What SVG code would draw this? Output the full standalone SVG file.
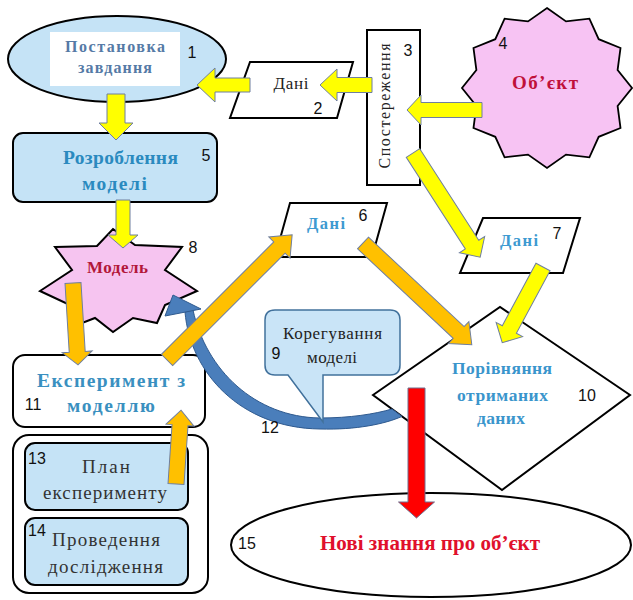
<svg xmlns="http://www.w3.org/2000/svg" width="633" height="600" viewBox="0 0 633 600">
<style>
.ser{font-family:"Liberation Serif","Times New Roman",serif;text-anchor:middle}
.b{font-weight:bold}
.num{font-family:"Liberation Sans",Arial,sans-serif;font-size:16px;fill:#111;text-anchor:middle}
.blk{stroke:#000;stroke-width:2}
.lb{fill:#C5E3F6}
.yel{fill:#FFFF00;stroke:#6F7F9F;stroke-width:1}
.org{fill:#FFC000;stroke:#6F7F9F;stroke-width:1}
.red{fill:#FF0000;stroke:#6F6F8F;stroke-width:1}
</style>
<rect width="633" height="600" fill="#fff"/>
<g id="node1">
<ellipse cx="117" cy="59" rx="109" ry="43" class="lb blk"/>
<rect x="50" y="32" width="130" height="54" fill="#fff"/>
<text class="ser b" x="115" y="52" font-size="16" fill="#557AA6" textLength="100" lengthAdjust="spacing">Постановка</text>
<text class="ser b" x="115" y="73" font-size="16" fill="#557AA6" textLength="74" lengthAdjust="spacing">завдання</text>
<text class="num" x="192" y="58">1</text>
</g>
<g id="node2">
<polygon points="250,62 353,62 337,118 230,118" fill="#fff" class="blk"/>
<text class="ser" x="291" y="89" font-size="17" fill="#222" textLength="35" lengthAdjust="spacing">Дані</text>
<text class="num" x="318" y="114">2</text>
</g>
<g id="node3">
<rect x="367" y="30" width="53" height="155" fill="#fff" class="blk"/>
<text class="ser" transform="translate(390,106) rotate(-90)" font-size="16" fill="#222" textLength="125" lengthAdjust="spacing">Спостереження</text>
<text class="num" x="408" y="56">3</text>
</g>
<g id="node4">
<polygon points="547,8 566,21.4 589.4,18.7 598.7,39.2 620.5,48 617.6,70.1 632,88 617.6,105.9 620.5,128 598.7,136.8 589.4,157.3 566,154.6 547,168 528,154.6 504.6,157.3 495.3,136.8 473.5,128 476.4,105.9 462,88 476.4,70.1 473.5,48 495.3,39.2 504.6,18.7 528,21.4" fill="#F7C3F3" stroke="#000" stroke-width="1.8"/>
<text class="ser b" x="545" y="89" font-size="19" fill="#C0103A" textLength="66" lengthAdjust="spacing">Об’єкт</text>
<text class="num" x="503" y="49">4</text>
</g>
<g id="node5">
<rect x="13" y="133" width="204" height="69" rx="10" class="lb blk"/>
<text class="ser b" x="120.5" y="164" font-size="19.5" fill="#2A8ABF" textLength="115" lengthAdjust="spacing">Розроблення</text>
<text class="ser b" x="114.5" y="190" font-size="19.5" fill="#2A8ABF" textLength="65" lengthAdjust="spacing">моделі</text>
<text class="num" x="206" y="161">5</text>
</g>
<g id="node6">
<polygon points="290,203 387,203 372,257 275,257" fill="#fff" class="blk"/>
<text class="ser b" x="326" y="229" font-size="16.5" fill="#3D9AD1" textLength="38" lengthAdjust="spacing">Дані</text>
<text class="num" x="363" y="221">6</text>
</g>
<g id="node7">
<polygon points="483,218 580,218 563,273 460,273" fill="#fff" class="blk"/>
<text class="ser b" x="519" y="246" font-size="16.5" fill="#3D9AD1" textLength="38" lengthAdjust="spacing">Дані</text>
<text class="num" x="557" y="239">7</text>
</g>
<g id="node8">
<polygon points="55,247 97,246 113,229 135,245 182,247 165,270 197,291 165,305 157,323 133,318 113,332 95,318 77,325 70,305 40,291 72,270" fill="#F6C4F0" class="blk"/>
<text class="ser b" x="117.5" y="273" font-size="17" fill="#B2173A" textLength="61" lengthAdjust="spacing">Модель</text>
<text class="num" x="193" y="253">8</text>
</g>
<g id="node11">
<rect x="13" y="355" width="192" height="72" rx="12" fill="#fff" class="blk"/>
<text class="ser b" x="111" y="387" font-size="19.5" fill="#3A90C0" textLength="148" lengthAdjust="spacing">Експеримент з</text>
<text class="ser b" x="111" y="412" font-size="19.5" fill="#3A90C0" textLength="88" lengthAdjust="spacing">моделлю</text>
<text class="num" x="33" y="410">11</text>
</g>
<g id="group13_14">
<rect x="13" y="435" width="195" height="158" rx="16" fill="#fff" class="blk"/>
</g>
<g id="node13">
<rect x="25" y="443" width="163" height="67" rx="10" class="lb blk"/>
<text class="ser" x="106" y="473" font-size="19" fill="#333" textLength="48" lengthAdjust="spacing">План</text>
<text class="ser" x="105" y="499" font-size="19" fill="#333" textLength="124" lengthAdjust="spacing">експерименту</text>
<text class="num" x="37" y="464">13</text>
</g>
<g id="node14">
<rect x="25" y="518" width="163" height="67" rx="10" class="lb blk"/>
<text class="ser" x="106" y="546" font-size="19" fill="#333" textLength="108" lengthAdjust="spacing">Проведення</text>
<text class="ser" x="105.5" y="573" font-size="19" fill="#333" textLength="115" lengthAdjust="spacing">дослідження</text>
<text class="num" x="37" y="536">14</text>
</g>
<g id="node10">
<polygon points="373,395 500,307 630,395 502,490" fill="#fff" class="blk"/>
<text class="ser b" x="502" y="374" font-size="17.5" fill="#3A95CC" textLength="100" lengthAdjust="spacing">Порівняння</text>
<text class="ser b" x="502.5" y="401" font-size="17.5" fill="#3A95CC" textLength="91" lengthAdjust="spacing">отриманих</text>
<text class="ser b" x="501" y="424" font-size="17.5" fill="#3A95CC" textLength="48" lengthAdjust="spacing">даних</text>
<text class="num" x="587" y="401">10</text>
</g>
<g id="node15">
<ellipse cx="431" cy="545" rx="200" ry="52" fill="#fff" class="blk"/>
<text class="ser b" x="430" y="550" font-size="21" fill="#E0102C" textLength="220" lengthAdjust="spacing">Нові знання про об’єкт</text>
<text class="num" x="247" y="549">15</text>
</g>
<g id="connectors">
<g id="c12">
<path d="M185,312 C190,372 240,428 320,429 C356,430 385,424 402,416.4 L392,409 C375,414 350,418 320,418 C255,417 206,370 193,310 Z" fill="#4A7EBB" stroke="#2F5A8F" stroke-width="1"/>
<polygon points="173,295 165,316 201,309" fill="#4A7EBB" stroke="#2F5A8F" stroke-width="1"/>
<text class="num" x="270" y="433">12</text>
</g>
<path class="yel" transform="translate(250,85) rotate(180)" d="M0,-7H35V-17L53,0L35,17V7H0Z"/>
<path class="yel" transform="translate(372,85) rotate(180)" d="M0,-7.5H35V-16L52,0L35,16V7.5H0Z"/>
<path class="yel" transform="translate(482,110) rotate(180)" d="M0,-7.5H61V-15L75,0L61,15V7.5H0Z"/>
<path class="yel" transform="translate(116,94) rotate(90)" d="M0,-9H29V-17L46,0L29,17V9H0Z"/>
<path class="yel" transform="translate(123,200) rotate(90)" d="M0,-7H35V-15L48,0L35,15V7H0Z"/>
<path class="org" transform="translate(73,283) rotate(86.5)" d="M0,-8H69V-15L82,0L69,15V8H0Z"/>
<path class="org" transform="translate(167,360) rotate(-45)" d="M0,-8H159V-15L177,0L159,15V8H0Z"/>
<path class="org" transform="translate(363,243) rotate(43.1)" d="M0,-8H131V-15L149,0L131,15V8H0Z"/>
<path class="yel" transform="translate(413,153) rotate(57.2)" d="M0,-8H109V-15L124,0L109,15V8H0Z"/>
<path class="yel" transform="translate(543,267) rotate(118.3)" d="M0,-8H71V-15L86,0L71,15V8H0Z"/>
<path class="org" transform="translate(176,484) rotate(-86.1)" d="M0,-8H59V-14L74,0L59,14V8H0Z"/>
<path class="red" transform="translate(416.5,388) rotate(90)" d="M0,-8.5H114V-18L130,0L114,18V8.5H0Z"/>
</g>
<g id="node9">
<path d="M275,310 H390 Q400,310 400,320 V365 Q400,375 390,375 H323 L323,422 L288,375 H275 Q265,375 265,365 V320 Q265,310 275,310 Z" fill="#C9E4F7" stroke="#41719C" stroke-width="1.5"/>
<text class="ser" x="332.5" y="339" font-size="17" fill="#222" textLength="99" lengthAdjust="spacing">Корегування</text>
<text class="ser" x="332" y="363" font-size="17" fill="#222" textLength="50" lengthAdjust="spacing">моделі</text>
<text class="num" x="276" y="359">9</text>
</g>
</svg>
